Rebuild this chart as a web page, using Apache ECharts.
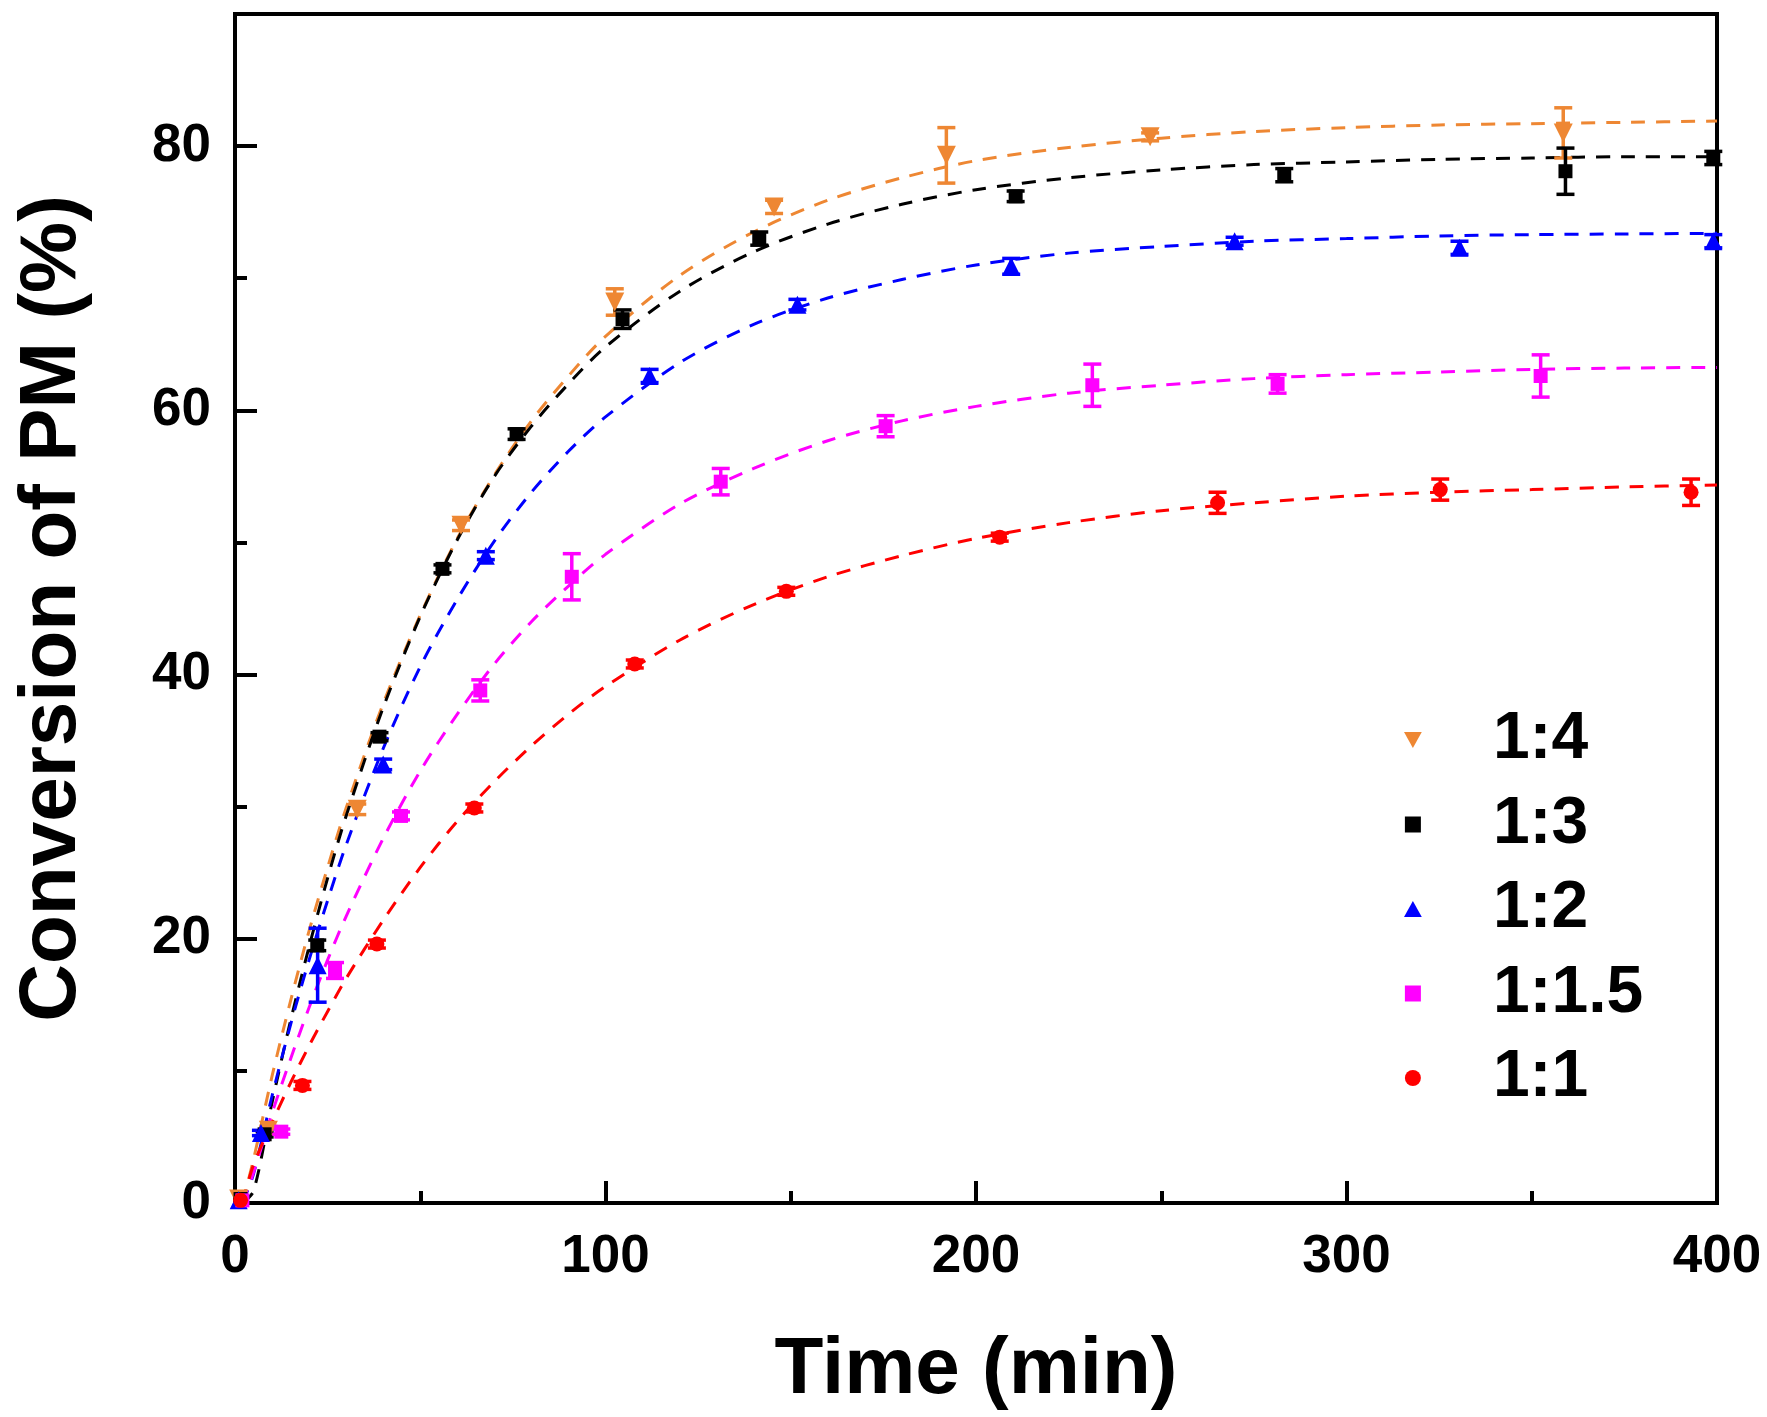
<!DOCTYPE html>
<html>
<head>
<meta charset="utf-8">
<script src="https://cdn.jsdelivr.net/npm/echarts@6/dist/echarts.min.js"></script>
<style>
  html, body { margin: 0; padding: 0; background: #fff; }
  #chart { width: 1767px; height: 1417px; }
</style>
</head>
<body>
<div id="chart"></div>
<script>
// measured points: time (min), conversion (%), error (+/-)
var t4 = [1, 9, 33, 61, 102.5, 145.5, 192, 247, 358.5];
var y4 = [0.3, 5.5, 29.8, 51.3, 68.2, 75.4, 79.3, 80.7, 81.0];
var e4 = [0, 0.3, 0.4, 0.4, 1.0, 0.5, 2.1, 0.3, 1.9];

var t3 = [1.5, 8, 22.2, 39, 56, 76, 104.6, 141.5, 210.7, 283.2, 359.1, 399];
var y3 = [0.3, 5.2, 19.5, 35.3, 48.0, 58.2, 66.9, 73.0, 76.2, 77.8, 78.1, 79.1];
var e3 = [0, 0.2, 0.4, 0.3, 0.3, 0.4, 0.7, 0.5, 0.4, 0.5, 1.75, 0.5];

var t2 = [1, 7, 22.3, 40, 67.7, 111.9, 151.8, 209.5, 269.8, 330.5, 399];
var y2 = [0.2, 5.3, 18.0, 33.2, 49.0, 62.6, 68.0, 70.9, 72.8, 72.3, 72.8];
var e2 = [0, 0.2, 2.8, 0.4, 0.3, 0.5, 0.4, 0.6, 0.3, 0.5, 0.5];

var t15 = [2, 12.5, 27, 44.8, 66.2, 90.9, 131.1, 175.6, 231.4, 281.4, 352.4];
var y15 = [0.2, 5.4, 17.6, 29.3, 38.8, 47.4, 54.6, 58.8, 61.9, 62.0, 62.6];
var e15 = [0, 0.2, 0.6, 0.3, 0.8, 1.75, 1.0, 0.8, 1.6, 0.7, 1.6];

var t1 = [1.5, 18.2, 38.3, 64.6, 107.9, 148.8, 206.4, 265.2, 325.3, 393];
var y1 = [0.2, 8.9, 19.6, 29.9, 40.8, 46.3, 50.4, 53.0, 54.0, 53.8];
var e1 = [0, 0.3, 0.3, 0.3, 0.3, 0.3, 0.3, 0.8, 0.8, 1.0];

// fitted curves (dashed)
var tf = [2, 5, 10, 15, 20, 25, 30, 40, 50, 60, 70, 80, 90, 100, 120, 140, 160, 180, 200, 225, 250, 275, 300, 325, 350, 375, 400];
var f4 = [0, 3.3, 9.6, 15.3, 20.6, 25.4, 29.9, 37.8, 44.5, 50.3, 55.1, 59.2, 62.6, 65.6, 70.2, 73.5, 75.9, 77.6, 78.9, 79.9, 80.6, 81.1, 81.4, 81.6, 81.7, 81.8, 81.9];
var f3 = [0, 0.9, 7.6, 13.8, 19.4, 24.6, 29.3, 37.5, 44.4, 50.2, 55.0, 58.8, 62.0, 64.8, 69.0, 72.0, 74.1, 75.6, 76.7, 77.6, 78.2, 78.6, 78.8, 79.0, 79.1, 79.2, 79.2];
var f2 = [0, 2.2, 8.1, 13.5, 18.4, 22.9, 27.1, 34.4, 40.6, 45.7, 50.1, 53.8, 56.9, 59.5, 63.6, 66.5, 68.5, 69.9, 71.0, 71.9, 72.4, 72.8, 73.0, 73.2, 73.3, 73.35, 73.4];
var f15 = [0, 2.3, 6.8, 10.9, 14.8, 18.4, 21.7, 27.6, 32.7, 37.0, 40.8, 44.0, 46.7, 49.1, 52.9, 55.6, 57.7, 59.2, 60.3, 61.3, 61.9, 62.4, 62.7, 62.9, 63.1, 63.2, 63.25];
var f1 = [0, 2.9, 6.1, 9.1, 11.9, 14.5, 17.0, 21.4, 25.4, 28.9, 31.9, 34.6, 37.0, 39.1, 42.6, 45.3, 47.4, 49.0, 50.3, 51.5, 52.4, 53.0, 53.5, 53.8, 54.0, 54.2, 54.35];

var names = ['1:4', '1:3', '1:2', '1:1.5', '1:1'];
var colors = ['#EE8733', '#000000', '#0000FF', '#FF00FF', '#FF0000'];
var symbols = [
  'path://M0,0L10,0L5,9Z',
  'path://M0,0L10,0L10,10L0,10Z',
  'path://M5,0L10,9L0,9Z',
  'path://M0,0L10,0L10,10L0,10Z',
  'circle'
];
var sizes = [19, 14, 18, 14, 15];

var pts = [[t4, y4, e4], [t3, y3, e3], [t2, y2, e2], [t15, y15, e15], [t1, y1, e1]];
var fits = [f4, f3, f2, f15, f1];

function zip(a, b, c) {
  return a.map(function (v, i) { return c ? [v, b[i], c[i]] : [v, b[i]]; });
}

var font = '"Liberation Sans", Arial, sans-serif';
var series = [];

// dashed fit lines first
fits.forEach(function (f, k) {
  series.push({
    type: 'line',
    data: zip(tf, f),
    smooth: 0.3,
    showSymbol: false,
    silent: true,
    z: 1,
    lineStyle: { color: colors[k], width: 3, type: [14, 11] }
  });
});

// error bars
pts.forEach(function (p, k) {
  series.push({
    type: 'custom',
    z: 2,
    silent: true,
    data: zip(p[0], p[1], p[2]),
    encode: { x: 0, y: 1 },
    renderItem: function (params, api) {
      var x = api.value(0), y = api.value(1), e = api.value(2);
      if (!e) return null;
      var top = api.coord([x, y + e]);
      var bot = api.coord([x, y - e]);
      var w = 9;
      var st = { stroke: colors[k], lineWidth: 3.5 };
      return {
        type: 'group',
        children: [
          { type: 'line', shape: { x1: top[0], y1: top[1], x2: bot[0], y2: bot[1] }, style: st },
          { type: 'line', shape: { x1: top[0] - w, y1: top[1], x2: top[0] + w, y2: top[1] }, style: st },
          { type: 'line', shape: { x1: bot[0] - w, y1: bot[1], x2: bot[0] + w, y2: bot[1] }, style: st }
        ]
      };
    }
  });
});

// markers
pts.forEach(function (p, k) {
  series.push({
    name: names[k],
    type: 'scatter',
    z: 3,
    data: zip(p[0], p[1]),
    symbol: symbols[k],
    symbolSize: sizes[k],
    itemStyle: { color: colors[k], opacity: 1 }
  });
});

var chart = echarts.init(document.getElementById('chart'));
chart.setOption({
  backgroundColor: '#fff',
  animation: false,
  grid: {
    left: 235, right: 50, top: 14, bottom: 214,
    show: true, borderColor: '#000', borderWidth: 4, backgroundColor: 'transparent'
  },
  legend: {
    data: names,
    orient: 'vertical',
    left: 1399,
    top: 702,
    itemWidth: 150,
    itemHeight: 16,
    itemGap: 18.5,
    textStyle: { fontFamily: font, fontWeight: 'bold', fontSize: 66, lineHeight: 64, color: '#000' }
  },
  xAxis: {
    type: 'value',
    min: 0, max: 400, interval: 100,
    name: 'Time (min)',
    nameLocation: 'middle',
    nameGap: 128,
    nameTextStyle: { fontFamily: font, fontWeight: 'bold', fontSize: 80, color: '#000' },
    axisLine: { show: true, lineStyle: { color: '#000', width: 4 } },
    axisTick: { show: true, inside: true, length: 22, lineStyle: { color: '#000', width: 4 } },
    minorTick: { show: true, splitNumber: 2, length: 12, lineStyle: { color: '#000', width: 4 } },
    splitLine: { show: false },
    axisLabel: { fontFamily: font, fontWeight: 'bold', fontSize: 53, color: '#000', margin: 28 }
  },
  yAxis: [{
    type: 'value',
    min: 0, max: 90, interval: 20,
    name: 'Conversion of PM (%)',
    nameLocation: 'middle',
    nameGap: 142,
    nameTextStyle: { fontFamily: font, fontWeight: 'bold', fontSize: 80, color: '#000' },
    axisLine: { show: true, lineStyle: { color: '#000', width: 4 } },
    axisTick: { show: true, inside: true, length: 22, lineStyle: { color: '#000', width: 4 } },
    splitLine: { show: false },
    axisLabel: { fontFamily: font, fontWeight: 'bold', fontSize: 53, color: '#000', margin: 24, showMaxLabel: false }
  }, {
    type: 'value',
    position: 'left',
    min: 0, max: 90, interval: 10,
    axisLine: { show: false },
    axisTick: { show: true, inside: true, length: 12, lineStyle: { color: '#000', width: 4 } },
    splitLine: { show: false },
    axisLabel: { show: false }
  }],
  series: series
});
</script>
</body>
</html>
